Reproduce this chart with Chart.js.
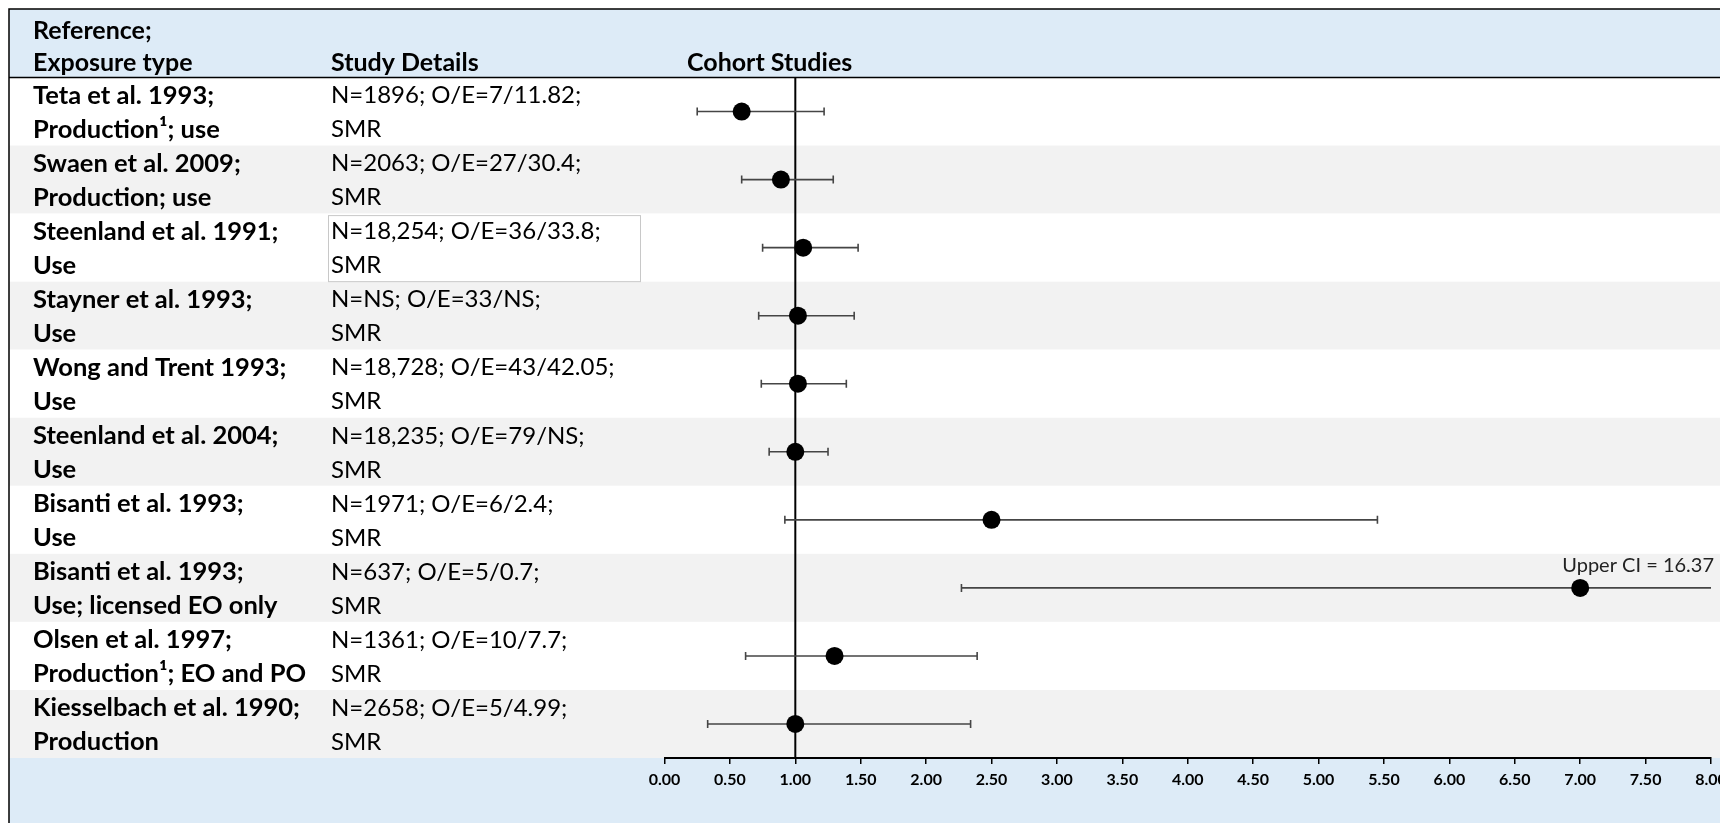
<!DOCTYPE html>
<html>
<head>
<meta charset="utf-8">
<title>Cohort Studies</title>
<script src="https://cdn.jsdelivr.net/npm/chart.js@4.4.1/dist/chart.umd.min.js"></script>
<style>
  html, body { margin: 0; padding: 0; background: #ffffff; }
  #wrap { width: 1720px; height: 823px; position: relative; }
</style>
</head>
<body>
<div id="wrap"><canvas id="forest" width="1720" height="823"></canvas></div>
<script>
// ---- Study table and estimates ----
const studyNames = [
  'Teta et al. 1993;', 'Swaen et al. 2009;', 'Steenland et al. 1991;', 'Stayner et al. 1993;',
  'Wong and Trent 1993;', 'Steenland et al. 2004;', 'Bisanti et al. 1993;', 'Bisanti et al. 1993;',
  'Olsen et al. 1997;', 'Kiesselbach et al. 1990;'
];
const exposureTypes = [
  'Production\u00B9; use', 'Production; use', 'Use', 'Use', 'Use', 'Use', 'Use',
  'Use; licensed EO only', 'Production\u00B9; EO and PO', 'Production'
];
const studyDetails = [
  'N=1896; O/E=7/11.82;', 'N=2063; O/E=27/30.4;', 'N=18,254; O/E=36/33.8;', 'N=NS; O/E=33/NS;',
  'N=18,728; O/E=43/42.05;', 'N=18,235; O/E=79/NS;', 'N=1971; O/E=6/2.4;', 'N=637; O/E=5/0.7;',
  'N=1361; O/E=10/7.7;', 'N=2658; O/E=5/4.99;'
];
const effectMeasures = ['SMR', 'SMR', 'SMR', 'SMR', 'SMR', 'SMR', 'SMR', 'SMR', 'SMR', 'SMR'];

const smrValues = [0.59, 0.89, 1.06, 1.02, 1.02, 1.00, 2.50, 7.00, 1.30, 1.00];
const lowerCI   = [0.25, 0.59, 0.75, 0.72, 0.74, 0.80, 0.92, 2.27, 0.62, 0.33];
const upperCI   = [1.22, 1.29, 1.48, 1.45, 1.39, 1.25, 5.45, 16.37, 2.39, 2.34];

const headerColumn1 = ['Reference;', 'Exposure type'];
const headerColumn2 = 'Study Details';
const plotHeading = 'Cohort Studies';

const axisMin = 0, axisMax = 8, axisStep = 0.5;
const nullEffect = 1;
const boxedRow = 2; // Steenland et al. 1991 details cell is outlined

// ---- Styling ----
const FONT = 'Lato, "Open Sans", sans-serif';
const HEADER_FILL = '#DDEBF7';
const ROW_FILLS = ['#FFFFFF', '#F2F2F2'];
const COL1_X = 33, COL2_X = 331, HEADING_X = 687;
const FRAME_X = 9, FRAME_Y = 9;
const LINE_UP = 16, LINE_DOWN = 18;

const tablePlugin = {
  id: 'tableLayout',
  beforeDraw(chart) {
    const { ctx, chartArea, scales: { y } } = chart;
    const W = chart.width, H = chart.height;
    ctx.save();
    ctx.fillStyle = '#FFFFFF';
    ctx.fillRect(0, 0, W, H);
    // header band
    ctx.fillStyle = HEADER_FILL;
    ctx.fillRect(FRAME_X, FRAME_Y, W - FRAME_X, chartArea.top - FRAME_Y);
    // alternating row bands
    studyNames.forEach((_, i) => {
      const y0 = y.getPixelForValue(i + 0.5);
      const y1 = y.getPixelForValue(i + 1.5);
      ctx.fillStyle = ROW_FILLS[i % 2];
      ctx.fillRect(FRAME_X, y0, W - FRAME_X, y1 - y0);
    });
    // footer band that holds the axis
    ctx.fillStyle = HEADER_FILL;
    ctx.fillRect(FRAME_X, chartArea.bottom, W - FRAME_X, H - chartArea.bottom);
    // frame lines
    ctx.strokeStyle = '#000000';
    ctx.lineWidth = 1.5;
    ctx.beginPath();
    ctx.moveTo(FRAME_X, H); ctx.lineTo(FRAME_X, FRAME_Y); ctx.lineTo(W, FRAME_Y);
    ctx.moveTo(FRAME_X, chartArea.top); ctx.lineTo(W, chartArea.top);
    ctx.stroke();
    // outlined details cell
    const by0 = y.getPixelForValue(boxedRow + 0.5) + 1.5;
    const by1 = y.getPixelForValue(boxedRow + 1.5) - 0.5;
    ctx.strokeStyle = '#C8C8C8';
    ctx.lineWidth = 1;
    ctx.strokeRect(COL2_X - 2.5, by0 + 0.5, 312, by1 - by0);
    ctx.restore();
  },
  beforeDatasetsDraw(chart) {
    const { ctx, chartArea, scales: { x, y } } = chart;
    ctx.save();
    // line of no effect
    const nx = x.getPixelForValue(nullEffect);
    ctx.strokeStyle = '#000000';
    ctx.lineWidth = 2;
    ctx.beginPath();
    ctx.moveTo(nx, chartArea.top);
    ctx.lineTo(nx, chartArea.bottom);
    ctx.stroke();
    // confidence intervals
    ctx.strokeStyle = '#454545';
    ctx.lineWidth = 1.6;
    smrValues.forEach((_, i) => {
      const py = y.getPixelForValue(i + 1);
      const clipped = upperCI[i] > axisMax;
      const x0 = x.getPixelForValue(lowerCI[i]);
      const x1 = x.getPixelForValue(Math.min(upperCI[i], axisMax));
      ctx.beginPath();
      ctx.moveTo(x0, py); ctx.lineTo(x1, py);
      ctx.moveTo(x0, py - 4); ctx.lineTo(x0, py + 4);
      if (!clipped) { ctx.moveTo(x1, py - 4); ctx.lineTo(x1, py + 4); }
      ctx.stroke();
    });
    ctx.restore();
  },
  afterDraw(chart) {
    const { ctx, chartArea, scales: { y } } = chart;
    ctx.save();
    ctx.fillStyle = '#000000';
    ctx.textBaseline = 'middle';
    ctx.textAlign = 'left';
    // header
    const hLine2 = chartArea.top - 15;
    const hLine1 = hLine2 - 32;
    ctx.font = 'bold 25px ' + FONT;
    ctx.fillText(headerColumn1[0], COL1_X, hLine1);
    ctx.fillText(headerColumn1[1], COL1_X, hLine2);
    ctx.fillText(headerColumn2, COL2_X, hLine2);
    ctx.fillText(plotHeading, HEADING_X, hLine2);
    // rows
    studyNames.forEach((name, i) => {
      const cy = y.getPixelForValue(i + 1);
      ctx.font = 'bold 25.5px ' + FONT;
      ctx.fillText(name, COL1_X, cy - LINE_UP);
      ctx.fillText(exposureTypes[i], COL1_X, cy + LINE_DOWN);
      ctx.font = '24px ' + FONT;
      ctx.fillText(studyDetails[i], COL2_X, cy - LINE_UP);
      ctx.fillText(effectMeasures[i], COL2_X, cy + LINE_DOWN);
    });
    // note for intervals running past the axis
    ctx.font = '20px ' + FONT;
    ctx.textAlign = 'right';
    ctx.fillStyle = '#222222';
    upperCI.forEach((u, i) => {
      if (u > axisMax) {
        const py = y.getPixelForValue(i + 1);
        ctx.fillText('Upper CI = ' + u.toFixed(2), chartArea.right + 3, py - 22);
      }
    });
    ctx.restore();
  }
};

function build() {
  new Chart(document.getElementById('forest'), {
    type: 'scatter',
    data: {
      datasets: [{
        data: smrValues.map((v, i) => ({ x: v, y: i + 1 })),
        backgroundColor: '#000000',
        borderColor: '#000000',
        pointRadius: 9,
        pointHoverRadius: 9,
        borderWidth: 0
      }]
    },
    options: {
      responsive: false,
      devicePixelRatio: 1,
      animation: false,
      events: [],
      layout: { padding: { left: 664.5, right: 9, top: 77.5, bottom: 0 } },
      plugins: { legend: { display: false }, tooltip: { enabled: false } },
      scales: {
        x: {
          type: 'linear',
          min: axisMin,
          max: axisMax,
          afterFit(scale) { scale.height = 65; scale.paddingLeft = 0; scale.paddingRight = 0; },
          afterBuildTicks(scale) {
            const ticks = [];
            for (let v = axisMin; v <= axisMax + 1e-9; v += axisStep) ticks.push({ value: +v.toFixed(2) });
            scale.ticks = ticks;
          },
          border: { display: true, color: '#000000', width: 2 },
          grid: { drawOnChartArea: false, drawTicks: true, tickLength: 6, color: '#000000', lineWidth: 1.5 },
          ticks: {
            maxRotation: 0,
            autoSkip: false,
            padding: 6,
            color: '#000000',
            font: { family: FONT, size: 16, weight: 'bold' },
            callback: (v) => Number(v).toFixed(2)
          }
        },
        y: {
          type: 'linear',
          display: false,
          reverse: true,
          min: 0.5,
          max: studyNames.length + 0.5
        }
      }
    },
    plugins: [tablePlugin]
  });
}

const fontLoads = ['bold 25.5px Lato', '24px Lato', '20px Lato', 'bold 16px Lato'].map(f => document.fonts.load(f));
Promise.all(fontLoads).then(build, build);
</script>
</body>
</html>
